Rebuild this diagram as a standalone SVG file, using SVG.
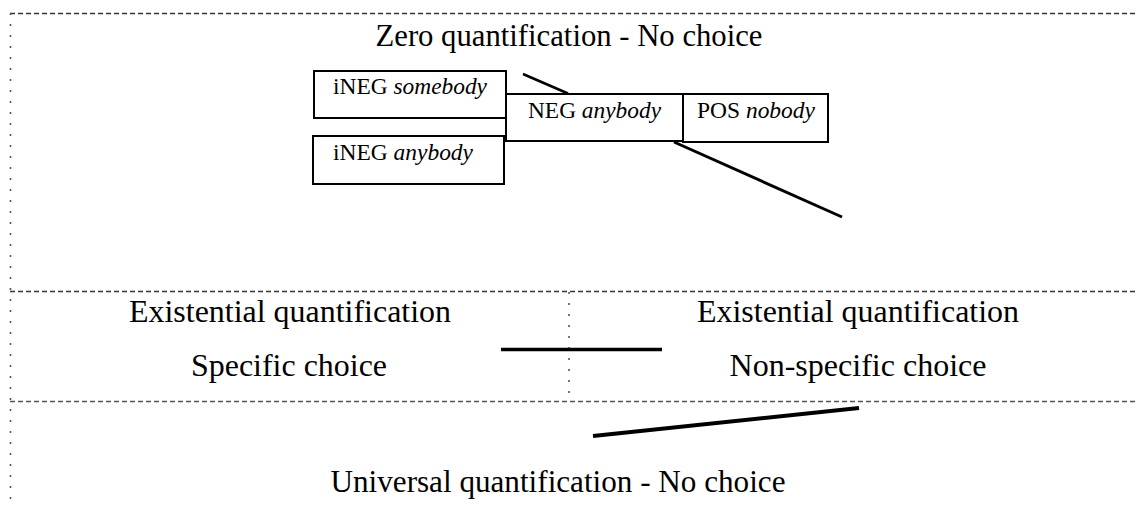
<svg xmlns="http://www.w3.org/2000/svg" width="1135" height="508" viewBox="0 0 1135 508">
  <style>
    .bg { fill: #ffffff; }
    .title { font-family: "Liberation Serif", "Times New Roman", serif; font-size: 31px; fill: #000; }
    .label { font-family: "Liberation Serif", "Times New Roman", serif; font-size: 23px; fill: #000; }
    .box { fill: #ffffff; stroke: #000; stroke-width: 2; }
    .dash { stroke: #333; stroke-width: 1.6; stroke-dasharray: 5 3; fill: none; }
    .dash-light { stroke: #555; stroke-width: 1.4; stroke-dasharray: 5 3; fill: none; }
    .dot { stroke: #555; stroke-width: 1.6; stroke-dasharray: 2 9; fill: none; }
    .link { stroke: #000; fill: none; stroke-linecap: butt; }
  </style>
  <rect class="bg" x="0" y="0" width="1135" height="508"/>

  <!-- region borders -->
  <g id="regions">
    <line class="dash" x1="10" y1="13.5" x2="1135" y2="13.5"/>
    <line class="dot" x1="10.5" y1="13" x2="10.5" y2="508"/>
    <line class="dash" x1="10" y1="291.5" x2="1135" y2="291.5"/>
    <line class="dot" x1="569" y1="292" x2="569" y2="401"/>
    <line class="dash-light" x1="10" y1="401.5" x2="1135" y2="401.5"/>
  </g>

  <!-- region titles -->
  <g id="zero-title">
    <text class="title" x="569" y="46" text-anchor="middle" textLength="387" lengthAdjust="spacingAndGlyphs">Zero quantification - No choice</text>
  </g>
  <g id="existential-specific">
    <text class="title" x="290" y="322" text-anchor="middle" textLength="322" lengthAdjust="spacingAndGlyphs">Existential quantification</text>
    <text class="title" x="289" y="376" text-anchor="middle" textLength="196" lengthAdjust="spacingAndGlyphs">Specific choice</text>
  </g>
  <g id="existential-nonspecific">
    <text class="title" x="858" y="322" text-anchor="middle" textLength="322" lengthAdjust="spacingAndGlyphs">Existential quantification</text>
    <text class="title" x="858" y="376" text-anchor="middle" textLength="257" lengthAdjust="spacingAndGlyphs">Non-specific choice</text>
  </g>
  <g id="universal-title">
    <text class="title" x="558" y="492" text-anchor="middle" textLength="455" lengthAdjust="spacingAndGlyphs">Universal quantification - No choice</text>
  </g>

  <!-- connectors -->
  <g id="connectors">
    <line class="link" stroke-width="2.5" x1="523" y1="74" x2="568" y2="93.5"/>
    <line class="link" stroke-width="3" x1="674" y1="142" x2="842" y2="217"/>
    <line class="link" stroke-width="3.5" x1="501" y1="349.5" x2="662" y2="349.5"/>
    <line class="link" stroke-width="4" x1="593" y1="436" x2="859" y2="408"/>
  </g>

  <!-- nodes -->
  <g id="ineg-somebody">
    <rect class="box" x="314" y="71" width="192" height="47"/>
    <text class="label" x="410" y="94" text-anchor="middle" textLength="154" lengthAdjust="spacingAndGlyphs">iNEG <tspan font-style="italic">somebody</tspan></text>
  </g>
  <g id="ineg-anybody">
    <rect class="box" x="313" y="136" width="191" height="48"/>
    <text class="label" x="333" y="160" textLength="140" lengthAdjust="spacingAndGlyphs">iNEG <tspan font-style="italic">anybody</tspan></text>
  </g>
  <g id="neg-anybody">
    <rect class="box" x="506" y="94" width="177" height="47"/>
    <text class="label" x="594.5" y="118" text-anchor="middle" textLength="133" lengthAdjust="spacingAndGlyphs">NEG <tspan font-style="italic">anybody</tspan></text>
  </g>
  <g id="pos-nobody">
    <rect class="box" x="683" y="94" width="145" height="48"/>
    <text class="label" x="756" y="118" text-anchor="middle" textLength="118" lengthAdjust="spacingAndGlyphs">POS <tspan font-style="italic">nobody</tspan></text>
  </g>
</svg>
